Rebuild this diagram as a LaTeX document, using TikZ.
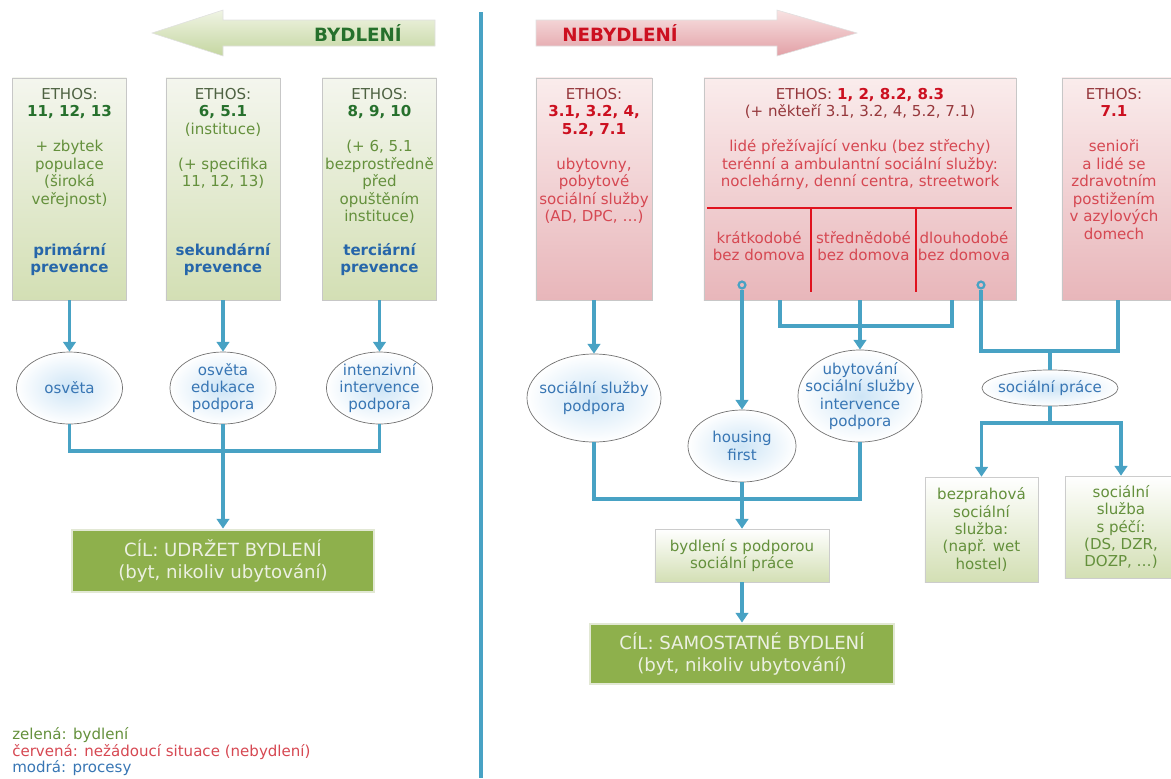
\documentclass[tikz,border=0pt]{standalone}
\usepackage{fontspec}
\setmainfont{DejaVu Sans}
\usetikzlibrary{shapes,shapes.geometric,arrows.meta,positioning,shadows}
\definecolor{linkblue}{RGB}{72,162,196}
\definecolor{grnbody}{RGB}{100,144,60}
\definecolor{grnbold}{RGB}{38,112,44}
\definecolor{grnethos}{RGB}{78,98,66}
\definecolor{prevblue}{RGB}{38,102,170}
\definecolor{procblue}{RGB}{56,118,180}
\definecolor{redbody}{RGB}{214,72,82}
\definecolor{redbold}{RGB}{204,16,32}
\definecolor{redethos}{RGB}{150,56,60}
\definecolor{redline}{RGB}{224,18,30}
\definecolor{goalgreen}{RGB}{142,176,76}
\definecolor{goalframe}{RGB}{226,232,212}
\definecolor{goaltext}{RGB}{236,240,226}
\definecolor{grntop}{RGB}{244,246,238}
\definecolor{grnbot}{RGB}{211,223,180}
\definecolor{redtop}{RGB}{250,236,236}
\definecolor{redbot}{RGB}{232,182,186}
\definecolor{elcore}{RGB}{206,229,246}
\newcommand{\bodyfont}{\fontsize{10.7}{12.4}\selectfont}

\begin{document}
\begin{tikzpicture}[x=0.025cm,y=-0.025cm,
  gbox/.style={rectangle,draw=black!22,top color=grntop,bottom color=grnbot,
    drop shadow={shadow xshift=0pt,shadow yshift=-0.7pt,opacity=0.5},
    minimum width=2.85cm,minimum height=5.55cm},
  rbox/.style={gbox,top color=redtop,bottom color=redbot},
  sbox/.style={rectangle,draw=black!20,top color=white,bottom color=grnbot,
    drop shadow={shadow xshift=0pt,shadow yshift=-0.7pt,opacity=0.5},
    font=\bodyfont,text=grnbody,align=center},
  goal/.style={rectangle,draw=goalframe,line width=2pt,fill=goalgreen,
    drop shadow={shadow xshift=0.6pt,shadow yshift=-0.8pt,opacity=0.4},
    font=\fontsize{12.9}{15}\selectfont,text=goaltext,align=center},
  procell/.style={ellipse,draw=black!55,line width=0.5pt,inner color=elcore,outer color=white},
  gtext/.style={font=\bodyfont,text=grnbody,align=center,inner sep=0pt},
  rtext/.style={gtext,text=redbody},
  ptext/.style={gtext,text=procblue},
  prev/.style={gtext,text=prevblue,font=\bodyfont\bfseries},
  dot/.style={circle,draw=linkblue,line width=1.6pt,minimum size=0.17cm,inner sep=0pt},
  link/.style={draw=linkblue,line width=2.6pt},
  flow/.style={link,-{Triangle[width=9pt,length=7pt]}},
  sepline/.style={draw=redline,line width=1.8pt},
  legend/.style={font=\bodyfont,anchor=west,inner sep=0pt}]

  \useasboundingbox (0,0) rectangle (1171,778);

  % Direction arrows and divider
  \shade[top color={rgb,255:red,240;green,244;blue,228},bottom color={rgb,255:red,196;green,214;blue,160},draw=black!12]
    (435,20) -- (223,20) -- (223,10) -- (152,33) -- (223,56) -- (223,46) -- (435,46) -- cycle;
  \node[font=\fontsize{13}{15}\selectfont\bfseries,text=grnbold] (bydl) at (358,33) {BYDLENÍ};
  \shade[top color={rgb,255:red,248;green,226;blue,226},bottom color={rgb,255:red,226;green,160;blue,166},draw=black!12]
    (536,20) -- (777,20) -- (777,10) -- (857,33) -- (777,56) -- (777,46) -- (536,46) -- cycle;
  \node[font=\fontsize{13}{15}\selectfont\bfseries,text=redbold] (nebydl) at (620,33) {NEBYDLENÍ};
  \draw[link,line width=2.3pt] (481,12) -- (481,778);

  % Housing: prevention boxes
  \node[gbox] (B1) at (69.5,189) {};
  \node[gbox] (B2) at (223,189) {};
  \node[gbox] (B3) at (379.5,189) {};

  \node[gtext,below=0.26cm of B1.north] (B1t) {{\color{grnethos}ETHOS:}\\\textbf{\color{grnbold}11, 12, 13}\\[12.4pt]+ zbytek\\populace\\(široká\\veřejnost)};
  \node[gtext,below=0.26cm of B2.north] (B2t) {{\color{grnethos}ETHOS:}\\\textbf{\color{grnbold}6, 5.1}\\(instituce)\\[12.4pt](+ specifika\\11, 12, 13)};
  \node[gtext,below=0.26cm of B3.north] (B3t) {{\color{grnethos}ETHOS:}\\\textbf{\color{grnbold}8, 9, 10}\\[12.4pt](+ 6, 5.1\\bezprostředně\\před\\opuštěním\\instituce)};

  \node[prev,above=0.61cm of B1.south] (B1p) {primární\\prevence};
  \node[prev,above=0.61cm of B2.south] (B2p) {sekundární\\prevence};
  \node[prev,above=0.61cm of B3.south] (B3p) {terciární\\prevence};

  % Housing: processes
  \node[procell,minimum width=2.65cm,minimum height=1.8cm] (E1) at (69.5,388) {};
  \node[ptext] (E1t) at (E1) {osvěta};
  \node[procell,minimum width=2.65cm,minimum height=1.8cm] (E2) at (223,388) {};
  \node[ptext] (E2t) at (E2) {osvěta\\edukace\\podpora};
  \node[procell,minimum width=2.65cm,minimum height=1.8cm] (E3) at (379.5,388) {};
  \node[ptext] (E3t) at (E3) {intenzivní\\intervence\\podpora};

  \node[goal,minimum width=7.55cm,minimum height=1.55cm] (G1) at (223,561) {CÍL: UDRŽET BYDLENÍ\\(byt, nikoliv ubytování)};

  \draw[flow] (B1) -- (E1);
  \draw[flow] (B2) -- (E2);
  \draw[flow] (B3) -- (E3);
  \coordinate (jl) at (223,451);
  \draw[link] (E1) |- (jl);
  \draw[link] (E3) |- (jl);
  \draw[flow] (E2) -- (G1);

  % Homelessness: situation boxes
  \node[rbox,minimum width=2.9cm] (R1) at (594,189) {};
  \node[rbox,minimum width=7.8cm] (R2) at (860,189) {};
  \node[rbox,minimum width=2.8cm] (R3) at (1118,189) {};

  \node[rtext,below=0.26cm of R1.north] (R1t) {{\color{redethos}ETHOS:}\\\textbf{\color{redbold}3.1, 3.2, 4,}\\\textbf{\color{redbold}5.2, 7.1}\\[12.4pt]ubytovny,\\pobytové\\sociální služby\\(AD, DPC, \dots)};
  \node[rtext,below=0.26cm of R2.north] (R2t) {{\color{redethos}ETHOS: }\textbf{\color{redbold}1, 2, 8.2, 8.3}\\{\color{redethos}(+ někteří 3.1, 3.2, 4, 5.2, 7.1)}\\[12.4pt]lidé přežívající venku (bez střechy)\\terénní a ambulantní sociální služby:\\noclehárny, denní centra, streetwork};
  \node[rtext,below=0.26cm of R3.north,xshift=-0.1cm] (R3t) {{\color{redethos}ETHOS:}\\\textbf{\color{redbold}7.1}\\[12.4pt]senioři\\a lidé se\\zdravotním\\postižením\\v azylových\\domech};

  \draw[sepline] (707,208) -- (1012,208);
  \draw[sepline] (811,208) -- (811,292);
  \draw[sepline] (916,208) -- (916,292);
  \node[rtext] (kr) at (759,246) {krátkodobé\\bez domova};
  \node[rtext] (st) at (863.5,246) {střednědobé\\bez domova};
  \node[rtext] (dl) at (964,246) {dlouhodobé\\bez domova};

  \node[dot] (c1) at (742,285) {};
  \node[dot] (c2) at (981,285) {};

  % Homelessness: processes
  \node[procell,minimum width=3.35cm,minimum height=2.2cm] (ESS) at (594,398) {};
  \node[ptext] (ESSt) at (ESS) {sociální služby\\podpora};
  \node[procell,minimum width=2.7cm,minimum height=1.8cm] (EHF) at (742,446) {};
  \node[ptext] (EHFt) at (EHF) {housing\\first};
  \node[procell,minimum width=3.1cm,minimum height=2.3cm] (EUB) at (860,396) {};
  \node[ptext] (EUBt) at (EUB) {ubytování\\sociální služby\\intervence\\podpora};
  \node[procell,minimum width=3.4cm,minimum height=0.9cm] (ESP) at (1050,388) {};
  \node[ptext] (ESPt) at (ESP) {sociální práce};

  \node[sbox,minimum width=4.35cm,minimum height=1.325cm] (SP1) at (742,555.5) {bydlení s podporou\\sociální práce};
  \node[goal,minimum width=7.6cm,minimum height=1.5cm] (G2) at (742,654) {CÍL: SAMOSTATNÉ BYDLENÍ\\(byt, nikoliv ubytování)};
  \node[sbox,minimum width=2.825cm,minimum height=2.625cm] (BZ) at (981.5,529.5) {bezprahová\\sociální\\služba:\\(např. wet\\hostel)};
  \node[sbox,minimum width=2.8cm,minimum height=2.55cm] (SC) at (1121,527) {sociální\\služba\\s péčí:\\(DS, DZR,\\DOZP, \dots)};

  \draw[flow] (R1) -- (ESS);
  \draw[flow] (c1) -- (EHF);
  \coordinate (k1) at (780,300);
  \coordinate (k2) at (952,300);
  \draw[link] (k1) -- ++(0,26) -| (k2);
  \draw[flow] (R2) -- (EUB);
  \coordinate (jm) at (742,499);
  \draw[link] (ESS) |- (jm);
  \draw[link] (EUB) |- (jm);
  \draw[flow] (EHF) -- (SP1);
  \draw[flow] (SP1) -- (G2);

  \coordinate (jr) at (1050,351);
  \draw[link] (c2) |- (jr) -| (R3);
  \draw[link] (jr) -- (ESP);
  \coordinate (jb) at (1050,423);
  \draw[link] (ESP) -- (jb);
  \draw[flow] (jb) -| (BZ);
  \draw[flow] (jb) -| (SC);

  % Legend
  \node[legend,text=grnbody] (lg1) at (12,735) {zelená: bydlení};
  \node[legend,text=redbody] (lg2) at (12,752) {červená: nežádoucí situace (nebydlení)};
  \node[legend,text=procblue] (lg3) at (12,768) {modrá: procesy};

\end{tikzpicture}
\end{document}
